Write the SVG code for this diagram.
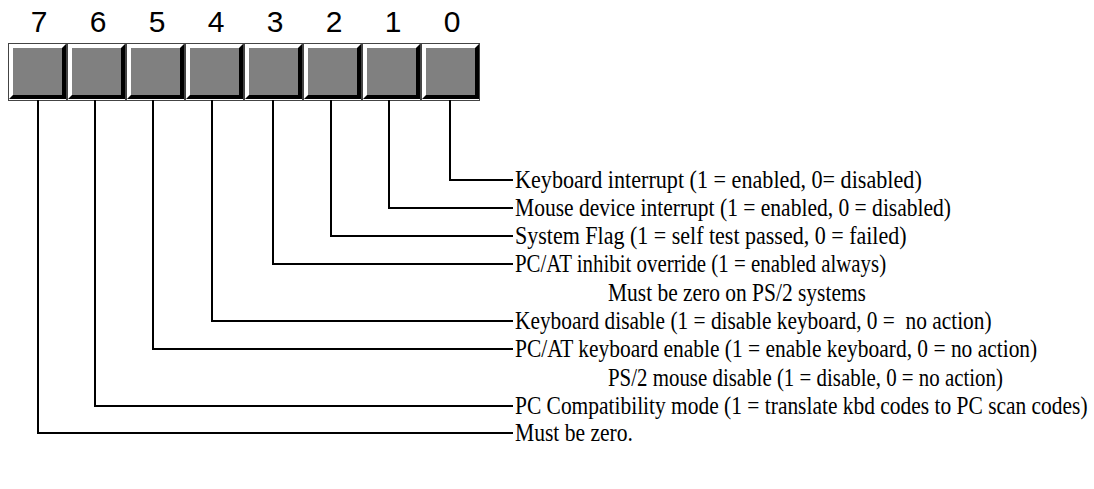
<svg xmlns="http://www.w3.org/2000/svg" width="1094" height="489" viewBox="0 0 1094 489">
<defs>
<style>
.num{font-family:"Liberation Sans",Arial,sans-serif;font-size:30px;fill:#000;text-anchor:middle}
.lbl{font-family:"Liberation Serif","Times New Roman",serif;font-size:26px;fill:#000}
.outer{fill:#fff;stroke:#444;stroke-width:1}
.shadow{fill:#000}
.face{fill:#808080}
.conn{fill:none;stroke:#000;stroke-width:2}
</style>
<g id="bitbox">
<rect class="outer" x="0.5" y="0.5" width="58" height="57"/>
<polygon class="shadow" points="58,1 58,56 1,56 5,52 54,52 54,5"/>
<rect class="face" x="5" y="5" width="49" height="47"/>
</g>
</defs>
<rect width="1094" height="489" fill="#fff"/>
<g id="bit7"><use href="#bitbox" x="8" y="43"/><text class="num" x="39" y="32">7</text></g>
<g id="bit6"><use href="#bitbox" x="67" y="43"/><text class="num" x="98" y="32">6</text></g>
<g id="bit5"><use href="#bitbox" x="126" y="43"/><text class="num" x="157" y="32">5</text></g>
<g id="bit4"><use href="#bitbox" x="185" y="43"/><text class="num" x="216" y="32">4</text></g>
<g id="bit3"><use href="#bitbox" x="244" y="43"/><text class="num" x="275" y="32">3</text></g>
<g id="bit2"><use href="#bitbox" x="303" y="43"/><text class="num" x="334" y="32">2</text></g>
<g id="bit1"><use href="#bitbox" x="362" y="43"/><text class="num" x="393" y="32">1</text></g>
<g id="bit0"><use href="#bitbox" x="421" y="43"/><text class="num" x="452" y="32">0</text></g>
<g id="connectors">
<path class="conn" d="M450,100 V180 H513"/>
<path class="conn" d="M389,100 V208 H513"/>
<path class="conn" d="M331,100 V236 H513"/>
<path class="conn" d="M273,100 V264 H513"/>
<path class="conn" d="M212,100 V321 H513"/>
<path class="conn" d="M153,100 V349 H513"/>
<path class="conn" d="M95,100 V406 H513"/>
<path class="conn" d="M38,100 V433 H513"/>
</g>
<g id="labels">
<text class="lbl" transform="translate(515,188) scale(0.852,1)">Keyboard interrupt (1 = enabled, 0= disabled)</text>
<text class="lbl" transform="translate(515,216) scale(0.828,1)">Mouse device interrupt (1 = enabled, 0 = disabled)</text>
<text class="lbl" transform="translate(515,244) scale(0.847,1)">System Flag (1 = self test passed, 0 = failed)</text>
<text class="lbl" transform="translate(515,272) scale(0.804,1)">PC/AT inhibit override (1 = enabled always)</text>
<text class="lbl" transform="translate(608,301) scale(0.825,1)">Must be zero on PS/2 systems</text>
<text class="lbl" transform="translate(515,329) scale(0.822,1)" xml:space="preserve">Keyboard disable (1 = disable keyboard, 0 =  no action)</text>
<text class="lbl" transform="translate(515,357) scale(0.825,1)">PC/AT keyboard enable (1 = enable keyboard, 0 = no action)</text>
<text class="lbl" transform="translate(608,386) scale(0.804,1)">PS/2 mouse disable (1 = disable, 0 = no action)</text>
<text class="lbl" transform="translate(515,414) scale(0.825,1)">PC Compatibility mode (1 = translate kbd codes to PC scan codes)</text>
<text class="lbl" transform="translate(515,441) scale(0.83,1)">Must be zero.</text>
</g>
</svg>
